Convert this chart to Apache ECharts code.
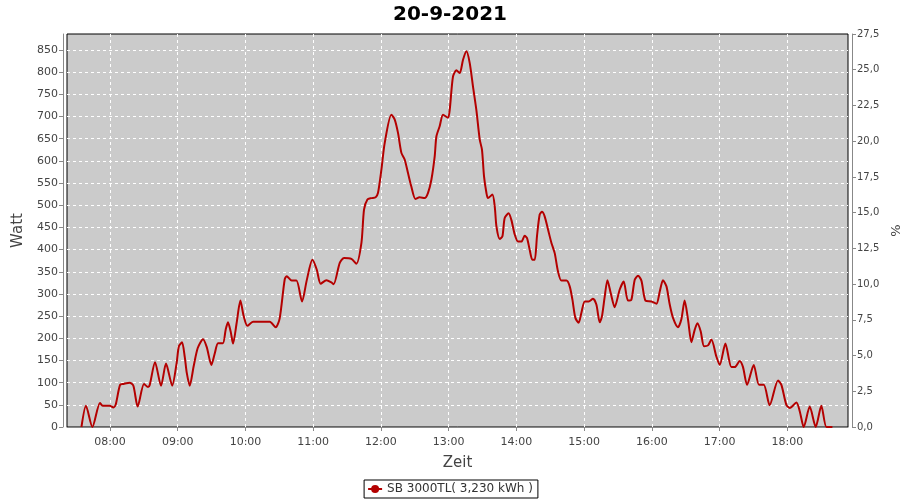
<!DOCTYPE html>
<html><head><meta charset="utf-8">
<script src="https://cdn.jsdelivr.net/npm/echarts@6/dist/echarts.min.js"></script>
<style>html,body{margin:0;padding:0;background:#fff}#c{width:900px;height:500px}</style>
</head><body><div id="c"></div>
<script>
// minutes after midnight (20-9-2021) and power in Watt
var minutes = [454.7,458.7,464.4,471.1,473.5,479.7,483,485,488.9,492,497.4,500.7,504.5,510.1,513.7,515.2,519.9,525.2,529.6,535.1,539,541,543.8,546.2,548,550.6,554.1,557.7,562.4,565.7,569.8,572.7,575.7,580,582.5,584.5,586.9,589,592.2,595.5,598.4,601.7,606.7,621.5,626.8,630.3,634.7,636.5,640.9,645.1,650.1,654.2,659.3,663.1,666.6,671.7,676.1,678.1,683.5,687.3,693.8,698.2,702.7,705,708,711.5,715.3,717.4,720.4,723.3,729.2,732.2,735.1,738.1,741,743.9,746.9,750.5,754.3,758.7,761.7,764.7,767.6,769.1,772,775,779.4,780.9,783.8,786.8,789.8,792.7,795.7,798.6,801.5,804.5,807.5,809.5,811.3,813.4,814.8,818.7,820.8,822.3,825.2,827.6,829.6,833.1,835.5,838.5,841.4,844.4,847.3,849.4,851.7,854.1,856.2,858.2,860.6,862.6,865,868,871,873.9,876.8,879.8,884.3,887.2,889.6,892.2,895.1,897.5,900.5,904,907.8,910.8,913.8,915.8,918.2,920.6,923.5,927,931.5,935,938.8,941.8,944.8,947.7,950.7,954.3,959.6,964,967,969.8,972.9,975.8,978.7,983.1,986.1,989,992,995,997.9,1000.3,1003.2,1006.2,1009.7,1012.7,1017.1,1020.1,1025.1,1030.4,1033.4,1037.8,1040.7,1044.3,1050.2,1054.9,1059.1,1064.3,1071.7,1074.7,1079.1,1082.1,1088,1091,1094.5,1099.8,1105.1,1110.1,1114.6,1119.9];
var watts = [0,48,0,54,48,48,44,50,95,97,100,93,46,97,90,95,146,93,143,93,144,182,191,158,122,93,137,178,198,180,140,165,189,189,220,236,215,188,235,285,250,228,237,237,225,245,332,340,330,330,283,330,377,355,323,331,326,322,370,381,379,368,415,490,513,516,518,528,580,640,704,693,663,618,603,573,542,514,518,516,528,558,610,655,678,704,697,715,790,804,798,828,847,821,768,715,648,625,565,528,516,524,497,452,424,430,471,482,467,434,418,418,431,426,400,377,377,430,479,485,475,445,415,392,351,330,330,317,287,246,235,257,283,283,289,276,236,250,294,331,302,270,310,328,285,287,332,341,330,285,283,278,306,331,317,276,246,225,243,285,242,191,219,234,216,182,184,197,159,140,188,135,135,149,135,95,140,95,95,49,105,95,50,43,55,35,0,46,0,48,0,0];
var titleText = '20-9-2021';
var seriesName = 'SB 3000TL( 3,230 kWh )';
var xMinMinutes = 441.9, xMaxMinutes = 1133.7;
var leftMax = 886, rightMax = 27.5;

var base = new Date(2021, 8, 20, 0, 0, 0).getTime();
function t(m){ return base + m * 60000; }
var data = minutes.map(function(m, i){ return [t(m), watts[i]]; });

var font = 'DejaVu Sans';
var chart = echarts.init(document.getElementById('c'), null, {renderer: 'canvas'});
chart.setOption({
  animation: false,
  backgroundColor: '#ffffff',
  title: {
    text: titleText, left: 'center', top: 0,
    textStyle: {fontFamily: font, fontSize: 20, fontWeight: 'bold', color: '#000'}
  },
  grid: {
    left: 67, right: 52, top: 34, bottom: 73,
    containLabel: false, outerBoundsMode: 'none',
    show: true, backgroundColor: '#cbcbcb', borderColor: '#000', borderWidth: 1
  },
  legend: {
    bottom: 2, left: 'center',
    data: [seriesName],
    borderColor: '#000', borderWidth: 1, borderRadius: 0,
    padding: [3, 5, 3, 3],
    itemWidth: 14, itemHeight: 10,
    textStyle: {fontFamily: font, fontSize: 12, color: '#333'}
  },
  xAxis: {
    type: 'time',
    min: t(xMinMinutes), max: t(xMaxMinutes),
    minInterval: 3600000, maxInterval: 3600000,
    offset: 4,
    name: 'Zeit', nameLocation: 'middle', nameGap: 25,
    nameTextStyle: {fontFamily: font, fontSize: 15, color: '#444'},
    axisLine: {show: true, lineStyle: {color: '#888', width: 1}},
    axisTick: {show: true, length: 4, inside: false, lineStyle: {color: '#888'}},
    axisLabel: {
      formatter: '{HH}:{mm}', showMinLabel: false, showMaxLabel: false,
      fontFamily: font, fontSize: 11, color: '#444', margin: 6
    },
    splitLine: {show: true, showMinLine: false, showMaxLine: false, lineStyle: {color: '#fff', type: [3, 3], width: 1}}
  },
  yAxis: [{
    type: 'value', position: 'left',
    min: 0, max: leftMax, interval: 50,
    offset: 4,
    name: 'Watt', nameLocation: 'middle', nameGap: 34, nameRotate: 90,
    nameTextStyle: {fontFamily: font, fontSize: 15, color: '#444'},
    axisLine: {show: true, lineStyle: {color: '#888'}},
    axisTick: {show: true, length: 4, lineStyle: {color: '#888'}},
    axisLabel: {showMaxLabel: false, fontFamily: font, fontSize: 11, color: '#444', margin: 5},
    splitLine: {show: true, showMinLine: false, showMaxLine: false, lineStyle: {color: '#fff', type: [3, 3], width: 1}}
  }, {
    type: 'value', position: 'right',
    min: 0, max: rightMax, interval: 2.5,
    offset: 4,
    name: '%', nameLocation: 'middle', nameGap: 32, nameRotate: 90,
    nameTextStyle: {fontFamily: font, fontSize: 13, color: '#444'},
    axisLine: {show: true, lineStyle: {color: '#888'}},
    axisTick: {show: true, length: 4, lineStyle: {color: '#888'}},
    axisLabel: {
      fontFamily: font, fontSize: 10, color: '#444', margin: 5,
      formatter: function(v){ return v.toFixed(1).replace('.', ','); }
    },
    splitLine: {show: false}
  }],
  series: [{
    name: seriesName, type: 'line', yAxisIndex: 0,
    data: data, showSymbol: false, symbol: 'none',
    smooth: 0.25,
    lineStyle: {color: '#b40000', width: 2},
    itemStyle: {color: '#b40000'}
  }]
});
</script></body></html>
